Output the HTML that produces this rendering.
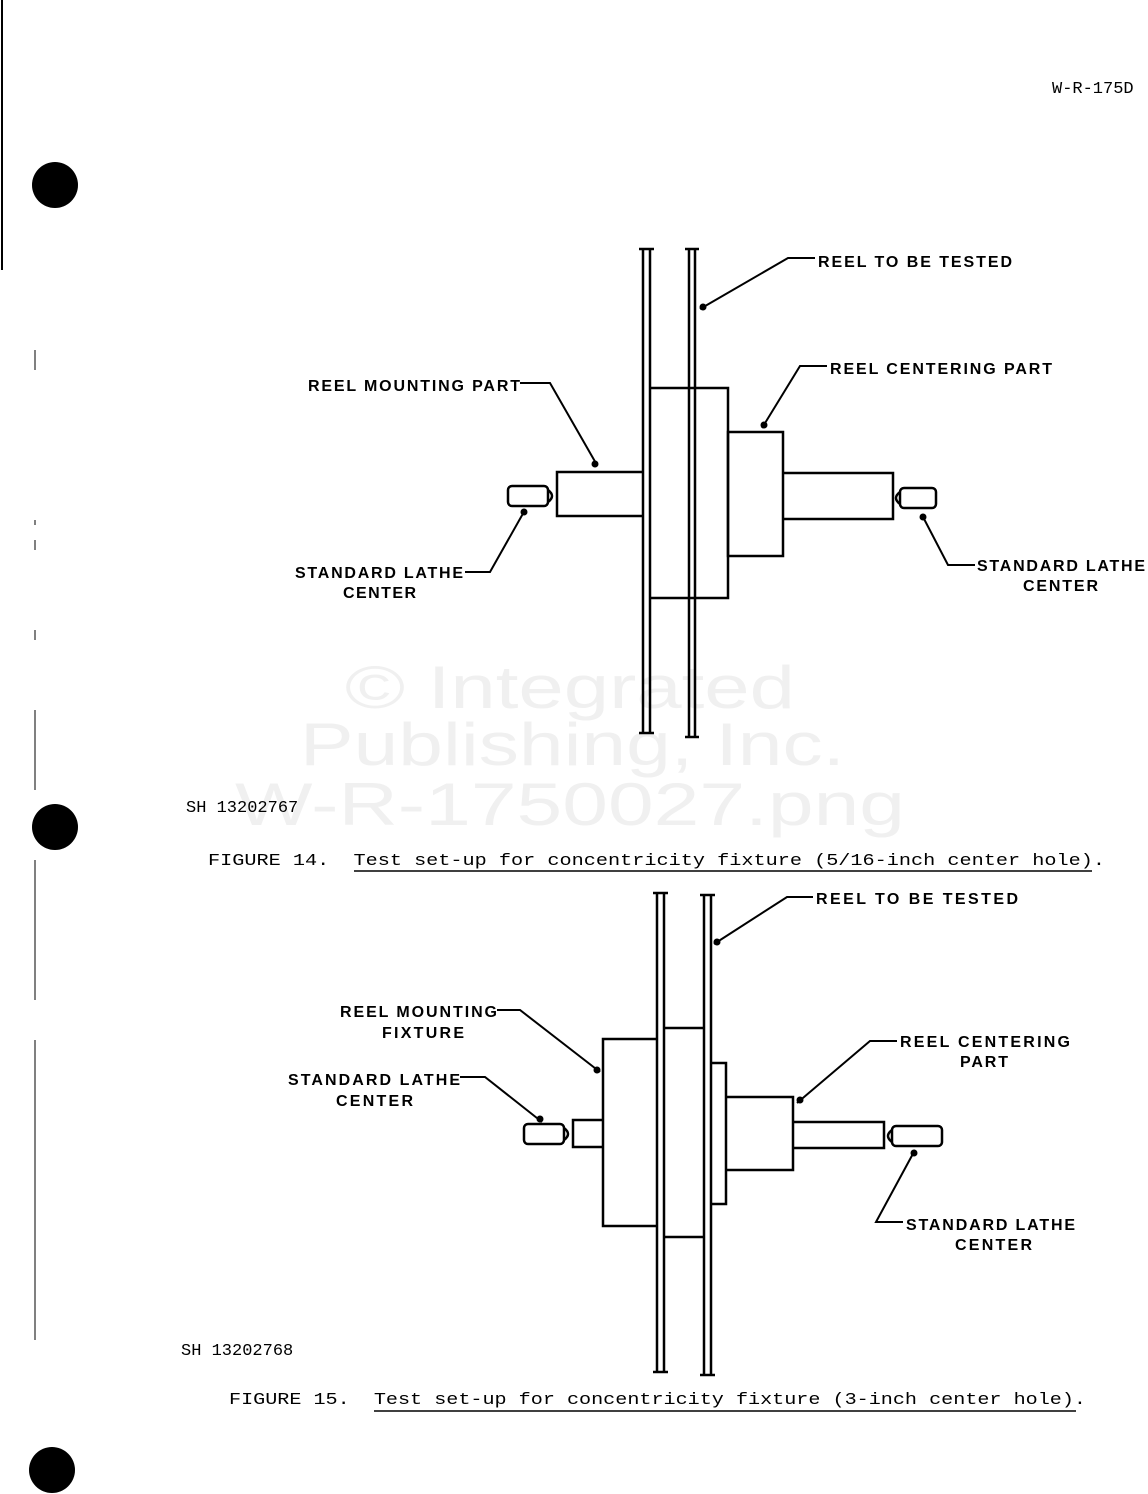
<!DOCTYPE html>
<html><head><meta charset="utf-8"><style>
html,body{margin:0;padding:0;background:#fff}
svg{display:block}
.l{font-family:"Liberation Sans",sans-serif;font-weight:bold;font-size:16px;fill:#000}
.m{font-family:"Liberation Mono",monospace;font-size:17px;fill:#000;white-space:pre}
.w{font-family:"Liberation Sans",sans-serif;font-size:60px;fill:#f0f0f0}
</style></head><body>
<svg width="1148" height="1494" viewBox="0 0 1148 1494" xmlns="http://www.w3.org/2000/svg" xml:space="preserve">
<rect width="1148" height="1494" fill="#fff"/>
<text class="w" x="345" y="708" textLength="450" lengthAdjust="spacingAndGlyphs">© Integrated</text>
<text class="w" x="300" y="765" textLength="545" lengthAdjust="spacingAndGlyphs">Publishing, Inc.</text>
<text class="w" x="235" y="825" textLength="670" lengthAdjust="spacingAndGlyphs">W-R-1750027.png</text>

<line x1="2" y1="0" x2="2" y2="270" stroke="#000" stroke-width="2"/>
<g stroke="#000" stroke-width="1">
<line x1="35" y1="350" x2="35" y2="370"/><line x1="35" y1="520" x2="35" y2="525"/><line x1="35" y1="540" x2="35" y2="550"/>
<line x1="35" y1="630" x2="35" y2="640"/><line x1="35" y1="710" x2="35" y2="790"/>
<line x1="35" y1="860" x2="35" y2="1000"/><line x1="35" y1="1040" x2="35" y2="1340"/>
</g>
<circle cx="55" cy="185" r="23" fill="#000"/>
<circle cx="55" cy="827" r="23" fill="#000"/>
<circle cx="52" cy="1470" r="23" fill="#000"/>
<text class="m" x="1052" y="93">W-R-175D</text>

<g fill="none" stroke="#000" stroke-width="2.5">
<line x1="643" y1="249" x2="643" y2="733"/><line x1="650" y1="249" x2="650" y2="733"/>
<line x1="689" y1="249" x2="689" y2="737"/><line x1="695" y1="249" x2="695" y2="737"/>
<line x1="639" y1="249" x2="654" y2="249"/><line x1="639" y1="733" x2="654" y2="733"/>
<line x1="685" y1="249" x2="699" y2="249"/><line x1="685" y1="737" x2="699" y2="737"/>
<polyline points="650,388 728,388 728,598 650,598"/>
<rect x="728" y="432" width="55" height="124"/>
<polyline points="643,472 557,472 557,516 643,516"/>
<polyline points="783,473 893,473 893,519 783,519"/>
<rect x="508" y="486" width="40" height="20" rx="4"/>
<path d="M548,490 q8,6 0,12"/>
<rect x="900" y="488" width="36" height="20" rx="4"/>
<path d="M900,492 q-8,6 0,12"/>
</g>
<g fill="none" stroke="#000" stroke-width="2">
<polyline points="815,258 788,258 700,309"/>
<polyline points="520,383 550,383 597,465"/>
<polyline points="827,366 800,366 762,428"/>
<polyline points="465,572 490,572 525,510"/>
<polyline points="975,565 948,565 922,515"/>
</g>
<g fill="#000">
<circle cx="703" cy="307" r="3.5"/><circle cx="595" cy="464" r="3.5"/>
<circle cx="764" cy="425" r="3.5"/><circle cx="524" cy="512" r="3.5"/><circle cx="923" cy="517" r="3.5"/>
</g>
<text class="l" x="818" y="267" textLength="194">REEL TO BE TESTED</text>
<text class="l" x="308" y="391" textLength="212">REEL MOUNTING PART</text>
<text class="l" x="830" y="374" textLength="222">REEL CENTERING PART</text>
<text class="l" x="295" y="578" textLength="168">STANDARD LATHE</text>
<text class="l" x="343" y="598" textLength="73">CENTER</text>
<text class="l" x="977" y="571" textLength="168">STANDARD LATHE</text>
<text class="l" x="1023" y="591" textLength="75">CENTER</text>
<text class="m" x="186" y="812">SH 13202767</text>
<text class="m" x="208" y="865" textLength="897" lengthAdjust="spacingAndGlyphs">FIGURE 14.  Test set-up for concentricity fixture (5/16-inch center hole).</text>
<line x1="354" y1="871" x2="1092" y2="871" stroke="#000" stroke-width="1.5"/>

<g fill="none" stroke="#000" stroke-width="2.5">
<line x1="657" y1="893" x2="657" y2="1372"/><line x1="664" y1="893" x2="664" y2="1372"/>
<line x1="704" y1="895" x2="704" y2="1375"/><line x1="711" y1="895" x2="711" y2="1375"/>
<line x1="653" y1="893" x2="668" y2="893"/><line x1="653" y1="1372" x2="668" y2="1372"/>
<line x1="700" y1="895" x2="715" y2="895"/><line x1="700" y1="1375" x2="715" y2="1375"/>
<polyline points="657,1039 603,1039 603,1226 657,1226"/>
<line x1="664" y1="1028" x2="704" y2="1028"/><line x1="664" y1="1237" x2="704" y2="1237"/>
<polyline points="711,1063 726,1063 726,1204 711,1204"/>
<polyline points="726,1097 793,1097 793,1170 726,1170"/>
<polyline points="793,1122 884,1122 884,1148 793,1148"/>
<polyline points="603,1120 573,1120 573,1147 603,1147"/>
<rect x="524" y="1124" width="40" height="20" rx="4"/>
<path d="M564,1128 q8,6 0,12"/>
<rect x="892" y="1126" width="50" height="20" rx="4"/>
<path d="M892,1130 q-8,6 0,12"/>
</g>
<g fill="none" stroke="#000" stroke-width="2">
<polyline points="813,897 787,897 714,944"/>
<polyline points="497,1010 520,1010 600,1072"/>
<polyline points="460,1077 485,1077 542,1122"/>
<polyline points="897,1041 870,1041 797,1103"/>
<polyline points="903,1222 876,1222 915,1150"/>
</g>
<g fill="#000">
<circle cx="717" cy="942" r="3.5"/><circle cx="597" cy="1070" r="3.5"/>
<circle cx="540" cy="1119" r="3.5"/><circle cx="800" cy="1100" r="3.5"/><circle cx="914" cy="1153" r="3.5"/>
</g>
<text class="l" x="816" y="904" textLength="202">REEL TO BE TESTED</text>
<text class="l" x="340" y="1017" textLength="157">REEL MOUNTING</text>
<text class="l" x="382" y="1038" textLength="82">FIXTURE</text>
<text class="l" x="288" y="1085" textLength="172">STANDARD LATHE</text>
<text class="l" x="336" y="1106" textLength="77">CENTER</text>
<text class="l" x="900" y="1047" textLength="170">REEL CENTERING</text>
<text class="l" x="960" y="1067" textLength="48">PART</text>
<text class="l" x="906" y="1230" textLength="169">STANDARD LATHE</text>
<text class="l" x="955" y="1250" textLength="77">CENTER</text>
<text class="m" x="181" y="1355">SH 13202768</text>
<text class="m" x="229" y="1404" textLength="857" lengthAdjust="spacingAndGlyphs">FIGURE 15.  Test set-up for concentricity fixture (3-inch center hole).</text>
<line x1="374" y1="1411" x2="1076" y2="1411" stroke="#000" stroke-width="1.5"/>
</svg>
</body></html>
